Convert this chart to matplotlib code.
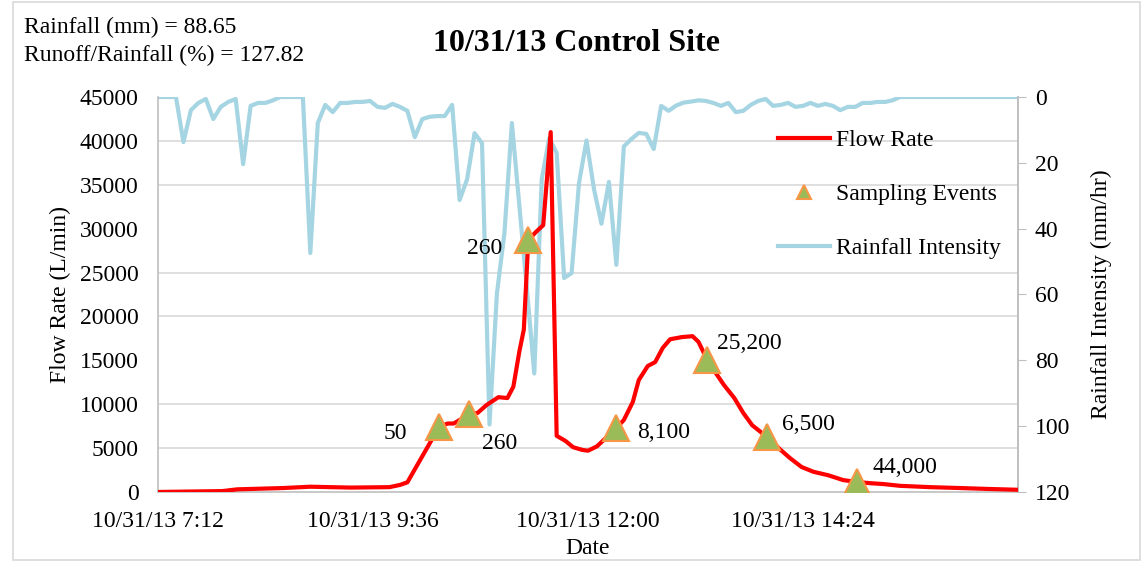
import numpy as np
import pandas as pd
import matplotlib
matplotlib.use('Agg')
import matplotlib.pyplot as plt
import matplotlib.dates as mdates
from matplotlib.patches import Rectangle
from matplotlib.ticker import FuncFormatter

plt.rcParams['font.family'] = ['Liberation Serif', 'DejaVu Serif']

#Data
day = '2013-10-31 '

# rainfall intensity (mm/hr), every 5 min from 7:09
rain_start = '07:09'
rain_step_min = 5
rain = [0, 0, 0, 0, 13.7, 4, 1.8, 0.6, 6.7, 3, 1.5, 0.6,
        20.4, 2.7, 1.8, 1.8, 1, 0, 0, 0, 0, 47.4, 7.9, 2.4,
        4.6, 1.8, 1.8, 1.5, 1.5, 1.2, 3, 3.3, 2.1, 3, 4.2, 12.2,
        6.7, 6, 5.8, 5.8, 2.4, 31.3, 25, 11, 14, 99.5, 59.6, 41.4,
        7.9, 33, 58, 84, 25, 12.5, 17, 55, 53.5, 26, 13.2, 28,
        38.5, 25.8, 51, 15, 12.8, 10.9, 11.2, 15.8, 2.7, 4.2, 2.6, 1.7,
        1.4, 1, 1.2, 1.8, 2.7, 1.8, 4.6, 4.2, 2.4, 1.2, 0.6, 2.7,
        2.4, 1.8, 3, 2.7, 1.8, 2.7, 2.1, 2.7, 4, 3, 3, 1.8,
        1.8, 1.5, 1.5, 1, 0, 0, 0, 0, 0, 0, 0, 0,
        0, 0, 0, 0, 0, 0, 0, 0, 0, 0, 0, 0, 0]

# flow rate (L/min)
flow_time = ['07:12', '07:55', '08:05', '08:36', '08:54', '09:21', '09:47', '09:54',
             '09:59', '10:16', '10:20', '10:26', '10:30', '10:36', '10:40', '10:46',
             '10:52', '11:00', '11:06', '11:10', '11:14', '11:17', '11:20', '11:25',
             '11:30', '11:35', '11:39', '11:45', '11:50', '11:56', '12:00', '12:06',
             '12:11', '12:19', '12:24', '12:30', '12:34', '12:40', '12:45', '12:50',
             '12:55', '13:03', '13:10', '13:14', '13:20', '13:25', '13:31', '13:38',
             '13:44', '13:50', '14:00', '14:09', '14:15', '14:23', '14:31', '14:41',
             '14:51', '15:00', '15:09', '15:18', '15:29', '15:49', '16:09', '16:27',
             '16:48']
flow = [0, 100, 300, 450, 600, 500, 550, 800,
        1100, 6150, 7400, 7800, 7800, 8400, 8900, 9000,
        9900, 10800, 10700, 12000, 16000, 18500, 28700, 29600,
        30400, 41000, 6400, 5800, 5100, 4800, 4700, 5200,
        6000, 7300, 8200, 10250, 12750, 14350, 14800, 16400,
        17400, 17650, 17750, 17100, 15000, 13700, 12200, 10700,
        9000, 7600, 6250, 4800, 3900, 2850, 2300, 1900,
        1350, 1150, 1000, 900, 700, 550, 450, 350,
        250]

# sampling events
sample_time = ['10:20', '10:40', '11:20', '12:19', '13:20', '14:00', '15:00']
sample_flow = [7400, 8900, 28700, 7300, 15000, 6250, 1150]
sample_label = ['50', '260', '260', '8,100', '25,200', '6,500', '44,000']

rain_total = 88.65
runoff_ratio = 127.82

#Build time axes
rain_t = pd.date_range(day + rain_start, periods=len(rain), freq=f'{rain_step_min}min')
flow_t = pd.to_datetime([day + t for t in flow_time])
samp_t = pd.to_datetime([day + t for t in sample_time])

fs = 17
fig = plt.figure(figsize=(11.42, 5.62), dpi=100)
ax = fig.add_axes([0.1384, 0.1246, 0.7530, 0.7028])
ax2 = ax.twinx()
ax.set_zorder(ax2.get_zorder() + 1)
ax.patch.set_visible(False)

grey = '#BFBFBF'
rain_c = '#A5D5E2'

#Rainfall on secondary (reversed) axis
l3, = ax2.plot(rain_t, rain, color=rain_c, lw=3, label='Rainfall Intensity')
ax2.set_ylim(120, 0)
ax2.set_yticks(np.arange(0, 121, 20))
ax2.set_yticks(np.linspace(0, 120, 10), minor=True)
ax2.yaxis.grid(True, which='minor', color='#D9D9D9', lw=1.2)
ax2.tick_params(axis='y', which='minor', length=0)
ax2.tick_params(axis='y', which='major', length=6, color=grey, labelsize=fs, direction='out', pad=6)
ax2.set_ylabel('Rainfall Intensity (mm/hr)', fontsize=fs, labelpad=15)

#Flow rate and sampling
l1, = ax.plot(flow_t, flow, color='red', lw=3, label='Flow Rate', zorder=3)
l2, = ax.plot(samp_t, sample_flow, ls='none', marker='^', ms=19, mfc='#9BBB59',
              mec='#F79646', mew=1.5, label='Sampling Events', zorder=4)

offsets = [(-23, -5, 'right'), (10, -21, 'left'), (-19, -6, 'right'), (15, -3, 'left'),
           (7, 12, 'left'), (11, 9, 'left'), (11, 10, 'left')]
for t, v, s, (dx, dy, ha) in zip(samp_t, sample_flow, sample_label, offsets):
    ax.annotate(s, (t, v), xytext=(dx, dy), textcoords='offset points',
                ha=ha, va='center', fontsize=fs, zorder=5)

ax.set_ylim(0, 45000)
ax.set_yticks(np.arange(0, 45001, 5000))
ax.set_xlim(pd.Timestamp(day + '07:12'), pd.Timestamp(day + '16:48'))
ticks = pd.date_range(day + '07:12', day + '14:24', freq='144min')
ax.set_xticks(ticks)
ax.xaxis.set_major_formatter(FuncFormatter(
    lambda x, pos: '10/31/13 {}:{:02d}'.format(mdates.num2date(x).hour, mdates.num2date(x).minute)))
ax.tick_params(axis='y', length=0, labelsize=fs, pad=14)
ax.tick_params(axis='x', length=0, labelsize=fs, pad=14)
ax.set_ylabel('Flow Rate (L/min)', fontsize=fs, labelpad=6)
ax.set_xlabel('Date', fontsize=fs, labelpad=4)

for a in (ax, ax2):
    for sp in a.spines.values():
        sp.set_color(grey)
        sp.set_linewidth(1.2)
    a.spines['top'].set_visible(False)
ax2.spines['left'].set_visible(False)
ax2.spines['bottom'].set_visible(False)

ax.legend(handles=[l1, l2, l3], loc='upper left', bbox_to_anchor=(0.663, 0.807),
          bbox_transform=fig.transFigure, frameon=False, fontsize=fs,
          handlelength=2.2, labelspacing=1.37, markerscale=0.55, handletextpad=0.25)

fig.text(0.505, 0.922, '10/31/13 Control Site', ha='center', va='center',
         fontsize=23, fontweight='bold')
fig.text(0.021, 0.952, 'Rainfall (mm) = {}'.format(rain_total), fontsize=fs, va='center')
fig.text(0.021, 0.902, 'Runoff/Rainfall (%) = {}'.format(runoff_ratio), fontsize=fs, va='center')

fig.patches.append(Rectangle((0.011, 0.004), 0.987, 0.992, transform=fig.transFigure,
                             fill=False, edgecolor='#D9D9D9', lw=1.2))

fig.savefig('out.png', dpi=100)
